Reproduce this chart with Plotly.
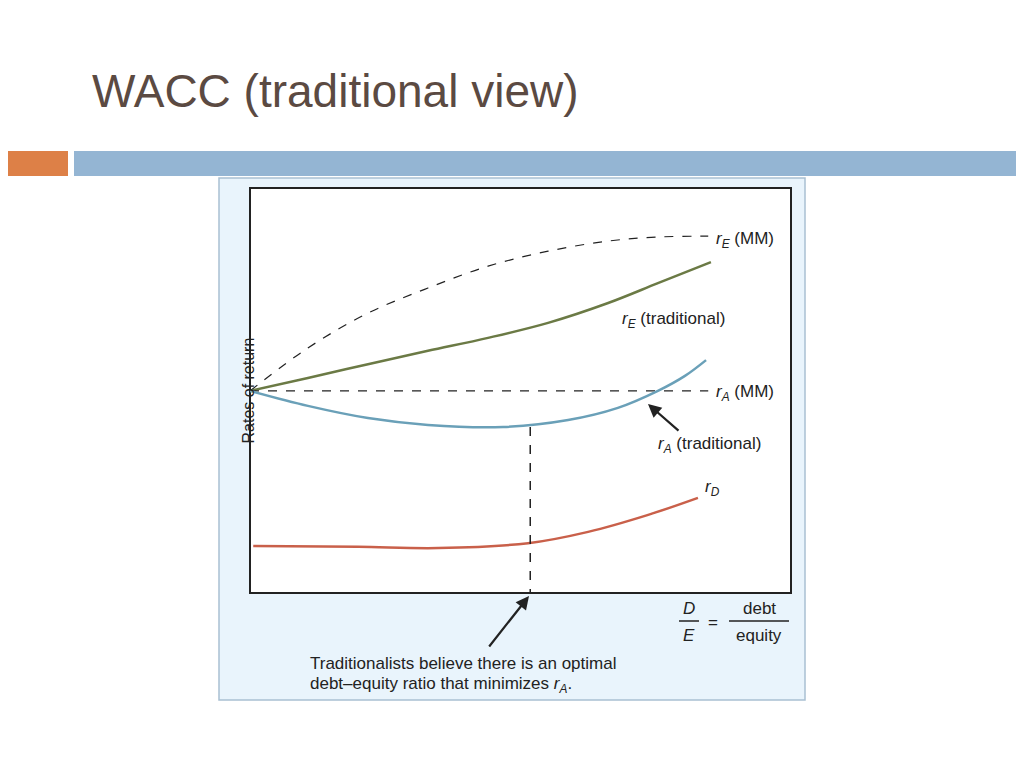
import plotly.graph_objects as go

# data (x: debt-equity ratio scale 0-100, y: rate scale 0-100)
re_mm_x = [0, 10.7, 21.8, 32.9, 44.0, 55.1, 66.2, 75.4, 84.7]
re_mm_y = [49.9, 60.5, 69.1, 75.3, 80.7, 84.4, 86.9, 87.9, 88.1]
re_tr_x = [0, 10.7, 21.8, 32.9, 44.0, 55.1, 66.2, 75.4, 85.2]
re_tr_y = [49.9, 53.1, 56.5, 59.8, 63.0, 66.7, 71.6, 76.5, 81.7]
ra_mm_x = [0, 84.7]
ra_mm_y = [49.9, 49.9]
ra_tr_x = [0, 10.7, 21.8, 32.9, 46.8, 58.8, 68.0, 75.4, 80.4, 84.3]
ra_tr_y = [49.9, 46.2, 43.2, 41.5, 41.0, 42.7, 45.7, 49.9, 53.6, 57.5]
rd_x = [0.6, 20.0, 34.8, 51.4, 62.5, 73.6, 82.8]
rd_y = [11.6, 11.4, 11.1, 12.3, 15.1, 19.3, 23.5]
opt_x = [51.8, 51.8]
opt_y = [41.0, 0]

W, H = 1024, 768
def px(x): return x / W
def py(y): return 1 - y / H

FONT = "Liberation Sans Narrow, Liberation Sans, Arial, sans-serif"
fig = go.Figure()
fig.add_trace(go.Scatter(x=re_mm_x, y=re_mm_y, mode="lines", line=dict(color="#222", width=1.2, dash="dash", shape="spline")))
fig.add_trace(go.Scatter(x=re_tr_x, y=re_tr_y, mode="lines", line=dict(color="#6b7a45", width=2.5, shape="spline")))
fig.add_trace(go.Scatter(x=ra_mm_x, y=ra_mm_y, mode="lines", line=dict(color="#222", width=1.2, dash="dash")))
fig.add_trace(go.Scatter(x=ra_tr_x, y=ra_tr_y, mode="lines", line=dict(color="#6aa0b8", width=2.5, shape="spline")))
fig.add_trace(go.Scatter(x=rd_x, y=rd_y, mode="lines", line=dict(color="#c9604a", width=2.5, shape="spline")))
fig.add_trace(go.Scatter(x=opt_x, y=opt_y, mode="lines", line=dict(color="#222", width=1.5, dash="dash")))

shapes = [
    dict(type="rect", xref="paper", yref="paper", x0=px(211), x1=px(797), y0=py(692), y1=py(170),
         fillcolor="#e9f4fc", line=dict(color="#a9c0d2", width=1.5), layer="below"),
    dict(type="rect", xref="paper", yref="paper", x0=px(242), x1=px(783), y0=py(585), y1=py(180),
         fillcolor="white", line=dict(color="#222", width=2), layer="below"),
    dict(type="rect", xref="paper", yref="paper", x0=0, x1=px(60), y0=py(168), y1=py(143),
         fillcolor="#dd8047", line_width=0, layer="below"),
    dict(type="rect", xref="paper", yref="paper", x0=px(66), x1=1, y0=py(168), y1=py(143),
         fillcolor="#94b5d3", line_width=0, layer="below"),
    dict(type="line", xref="paper", yref="paper", x0=px(671), x1=px(691), y0=py(613), y1=py(613), line=dict(color="#222", width=1.5)),
    dict(type="line", xref="paper", yref="paper", x0=px(721), x1=px(781), y0=py(613), y1=py(613), line=dict(color="#222", width=1.5)),
]

def lab(x, y, t, size=17, anchor="left"):
    return dict(xref="paper", yref="paper", x=px(x), y=py(y), text=t, showarrow=False,
                xanchor=anchor, yanchor="middle", font=dict(family=FONT, size=size, color="#222"))

def r(s): return "<i>r</i><sub><i>" + s + "</i></sub>"

ann = [
    dict(xref="paper", yref="paper", x=px(82), y=py(83), text="WACC (traditional view)", showarrow=False,
         xanchor="left", yanchor="middle", font=dict(family="Liberation Sans, sans-serif", size=46, color="#5b4a42")),
    lab(706, 232, r("E") + " (MM)"),
    lab(612, 312, r("E") + " (traditional)"),
    lab(706, 385, r("A") + " (MM)"),
    lab(648, 437, r("A") + " (traditional)"),
    lab(695, 480, r("D")),
    lab(681, 600, "<i>D</i>", anchor="center"),
    lab(681, 627, "<i>E</i>", anchor="center"),
    lab(705, 614, "=", anchor="center"),
    lab(751, 600, "debt", anchor="center"),
    lab(751, 627, "equity", anchor="center"),
    lab(300, 655, "Traditionalists believe there is an optimal"),
    lab(300, 677, "debt\u2013equity ratio that minimizes " + r("A") + "."),
    dict(xref="paper", yref="paper", x=px(229), y=py(383), text="Rates of return", showarrow=False, textangle=-90,
         font=dict(family=FONT, size=16, color="#222")),
    dict(xref="paper", yref="paper", x=px(521), y=py(588), ax=-41, ay=52,
         text="", showarrow=True, arrowhead=2, arrowsize=1.2, arrowwidth=2.2, arrowcolor="#222"),
    dict(xref="paper", yref="paper", x=px(640), y=py(396), ax=32, ay=28,
         text="", showarrow=True, arrowhead=2, arrowsize=1.2, arrowwidth=2.2, arrowcolor="#222"),
]

fig.update_layout(
    width=W, height=H, margin=dict(l=0, r=0, t=0, b=0), showlegend=False,
    paper_bgcolor="white", plot_bgcolor="rgba(0,0,0,0)",
    xaxis=dict(domain=[242 / W, 783 / W], range=[0, 100], visible=False),
    yaxis=dict(domain=[1 - 585 / H, 1 - 180 / H], range=[0, 100], visible=False),
    shapes=shapes, annotations=ann,
)
fig.write_html("out.html")
